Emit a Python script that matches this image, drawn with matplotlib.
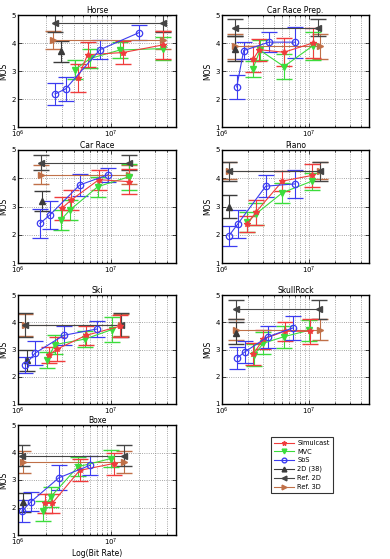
import numpy as np
import matplotlib
matplotlib.use("Agg")
import matplotlib.pyplot as plt
from matplotlib.lines import Line2D
from matplotlib.ticker import LogLocator, LogFormatterSciNotation, NullFormatter

# panel names, in drawing order (left/right, top to bottom)
titles = ['Horse', 'Car Race Prep.', 'Car Race', 'Piano', 'Ski', 'SkullRock', 'Boxe']

# Simulcast
sim_rate = [[4.4e6, 5.6e6, 1.35e7, 3.6e7],
            [2.3e6, 2.7e6, 5.2e6, 1.12e7],
            [2.95e6, 3.7e6, 7.4e6, 1.55e7],
            [1.97e6, 2.45e6, 5.0e6, 1.1e7],
            [2.15e6, 2.65e6, 5.4e6, 1.24e7],
            [2.3e6, 3.0e6, 5.3e6, 1.05e7],
            [1.95e6, 2.33e6, 4.6e6, 1.07e7]]
sim_mos = [[2.75, 3.58, 3.66, 3.93],
           [3.43, 3.76, 3.67, 4.0],
           [2.93, 3.22, 3.95, 3.88],
           [2.38, 2.79, 3.9, 4.1],
           [2.8, 3.02, 3.52, 3.85],
           [2.83, 3.38, 3.67, 3.67],
           [2.15, 2.15, 3.35, 3.6]]
sim_err = [[0.5, 0.45, 0.4, 0.5],
           [0.45, 0.4, 0.5, 0.55],
           [0.4, 0.35, 0.35, 0.45],
           [0.3, 0.45, 0.35, 0.4],
           [0.3, 0.45, 0.35, 0.4],
           [0.4, 0.35, 0.35, 0.45],
           [0.35, 0.35, 0.4, 0.4]]

# MVC
mvc_rate = [[4.1e6, 6.0e6, 1.25e7, 3.6e7],
            [2.27e6, 2.75e6, 5.2e6, 1.12e7],
            [2.9e6, 3.6e6, 7.2e6, 1.55e7],
            [1.97e6, 2.45e6, 5.0e6, 1.1e7],
            [2.05e6, 2.5e6, 5.2e6, 1.02e7],
            [2.35e6, 3.0e6, 5.2e6, 1.0e7],
            [1.85e6, 2.24e6, 4.4e6, 1.0e7]]
mvc_mos = [[3.05, 3.45, 3.75, 3.8],
           [3.07, 3.74, 3.16, 3.9],
           [2.53, 2.87, 3.7, 4.05],
           [2.44, 2.73, 3.49, 3.9],
           [2.62, 3.18, 3.38, 3.73],
           [2.8, 3.23, 3.47, 3.7],
           [1.87, 2.38, 3.48, 3.78]]
mvc_err = [[0.35, 0.35, 0.3, 0.4],
           [0.3, 0.35, 0.45, 0.5],
           [0.35, 0.35, 0.35, 0.45],
           [0.35, 0.4, 0.35, 0.3],
           [0.3, 0.35, 0.3, 0.45],
           [0.4, 0.4, 0.4, 0.4],
           [0.35, 0.35, 0.35, 0.3]]

# SbS
sbs_rate = [[2.5e6, 3.25e6, 7.6e6, 2.0e7],
            [1.48e6, 1.78e6, 3.5e6, 7.0e6],
            [1.72e6, 2.2e6, 4.6e6, 9.2e6],
            [1.2e6, 1.52e6, 3.2e6, 7.0e6],
            [1.2e6, 1.53e6, 3.1e6, 7.0e6],
            [1.5e6, 1.85e6, 3.4e6, 6.6e6],
            [1.1e6, 1.38e6, 2.75e6, 5.9e6]]
sbs_mos = [[2.18, 2.36, 3.76, 4.37],
           [2.43, 3.73, 4.03, 4.03],
           [2.4, 2.7, 3.76, 4.12],
           [1.96, 2.38, 3.72, 3.8],
           [2.44, 2.87, 3.52, 3.75],
           [2.69, 2.92, 3.47, 3.79],
           [1.87, 2.21, 3.08, 3.53]]
sbs_err = [[0.4, 0.43, 0.33, 0.27],
           [0.43, 0.3, 0.35, 0.55],
           [0.5, 0.5, 0.4, 0.25],
           [0.35, 0.5, 0.4, 0.5],
           [0.3, 0.45, 0.35, 0.3],
           [0.4, 0.4, 0.4, 0.45],
           [0.4, 0.35, 0.45, 0.35]]

# 2D (38) single point
d38_rate = [2.9e6, 1.42e6, 1.8e6, 1.2e6, 1.25e6, 1.47e6, 1.12e6]
d38_mos = [3.7, 3.8, 3.19, 2.99, 2.6, 3.6, 2.19]
d38_err = [0.37, 0.45, 0.35, 0.4, 0.4, 0.4, 0.35]

# reference lines (start / end rate)
ref2d_rate = [[2.5e6, 3.6e7], [1.42e6, 1.3e7], [1.75e6, 1.55e7], [1.19e6, 1.35e7],
              [1.2e6, 1.28e7], [1.47e6, 1.32e7], [1.1e6, 1.38e7]]
ref2d_mos = [4.7, 4.55, 4.55, 4.25, 3.9, 4.47, 3.88]
ref2d_err = [0.3, 0.3, 0.27, 0.33, 0.45, 0.35, 0.38]

ref3d_rate = [[2.4e6, 3.6e7], [1.42e6, 1.35e7], [1.75e6, 1.55e7], [1.19e6, 1.35e7],
              [1.2e6, 1.28e7], [1.47e6, 1.35e7], [1.12e6, 1.38e7]]
ref3d_mos = [4.1, 3.88, 4.13, 4.27, 3.9, 3.73, 3.65]
ref3d_err = [0.33, 0.45, 0.35, 0.3, 0.42, 0.38, 0.4]

c_sim = '#f03c3c'
c_mvc = '#3cdc3c'
c_sbs = '#3c3cf0'
c_2d = '#3a3a3a'
c_ref2d = '#454545'
c_ref3d = '#c07048'

fig = plt.figure(figsize=(3.9, 5.59), dpi=100)

W, H = 390.0, 559.0
cols = [(18, 176), (222, 369)]
rows = [(15, 127), (150, 263), (295, 404), (425, 535)]

eb = dict(capsize=5.5, elinewidth=0.8, linewidth=0.8, markersize=3.8)

for i, name in enumerate(titles):
    r, c = divmod(i, 2)
    x0, x1 = cols[c]
    y0, y1 = rows[r]
    ax = fig.add_axes([x0 / W, 1 - y1 / H, (x1 - x0) / W, (y1 - y0) / H])
    ax.set_xscale('log')

    ax.errorbar(ref3d_rate[i], [ref3d_mos[i]] * 2, yerr=ref3d_err[i], fmt='->',
                color=c_ref3d, **eb)
    ax.errorbar(ref2d_rate[i], [ref2d_mos[i]] * 2, yerr=ref2d_err[i], fmt='-<',
                color=c_ref2d, **eb)
    ax.errorbar([d38_rate[i]], [d38_mos[i]], yerr=d38_err[i], fmt='-^',
                color=c_2d, **eb)
    ax.errorbar(mvc_rate[i], mvc_mos[i], yerr=mvc_err[i], fmt='-v',
                color=c_mvc, **eb)
    ax.errorbar(sim_rate[i], sim_mos[i], yerr=sim_err[i], fmt='-*',
                color=c_sim, **eb)
    ax.errorbar(sbs_rate[i], sbs_mos[i], yerr=sbs_err[i], fmt='-o',
                color=c_sbs, mfc='none', mew=0.9,
                **{**eb, 'markersize': 4.6})

    ax.set_xlim(1e6, 5e7)
    ax.set_ylim(1, 5)
    ax.set_yticks([1, 2, 3, 4, 5])
    ax.xaxis.set_major_locator(LogLocator(base=10, numticks=10))
    ax.xaxis.set_major_formatter(LogFormatterSciNotation())
    ax.xaxis.set_minor_locator(LogLocator(base=10, subs=np.arange(2, 10), numticks=20))
    ax.xaxis.set_minor_formatter(NullFormatter())
    ax.grid(True, which='both', axis='x', linestyle=':', color='#888888', linewidth=0.6)
    ax.grid(True, which='major', axis='y', linestyle=':', color='#888888', linewidth=0.6)
    ax.tick_params(which='both', direction='in', top=True, right=True, labelsize=5,
                   width=0.5, pad=1.5)
    ax.tick_params(which='major', length=3)
    ax.tick_params(which='minor', length=1.5)
    for s in ax.spines.values():
        s.set_linewidth(1.0)
    ax.set_title(name, fontsize=5.5, pad=1.5)
    ax.set_ylabel('MOS', fontsize=5.5, labelpad=2)
    if i == 6:
        ax.set_xlabel('Log(Bit Rate)', fontsize=5.5, labelpad=0.5)

labels = ['Simulcast', 'MVC', 'SbS', '2D (38)', 'Ref. 2D', 'Ref. 3D']
styles = [(c_sim, '*', c_sim), (c_mvc, 'v', c_mvc), (c_sbs, 'o', 'none'),
          (c_2d, '^', c_2d), (c_ref2d, '<', c_ref2d), (c_ref3d, '>', c_ref3d)]
handles = [Line2D([], [], color=col, marker=m, mfc=fc, markersize=3.4, linewidth=0.8)
           for col, m, fc in styles]
leg = fig.legend(handles, labels, loc='upper left',
                 bbox_to_anchor=(271 / W, 1 - 437 / H), fontsize=4.8,
                 frameon=True, fancybox=False, edgecolor='black',
                 borderpad=0.45, labelspacing=0.4, handlelength=3.0,
                 handletextpad=0.5, borderaxespad=0)
leg.get_frame().set_linewidth(0.8)

fig.savefig('out.png', dpi=100)
